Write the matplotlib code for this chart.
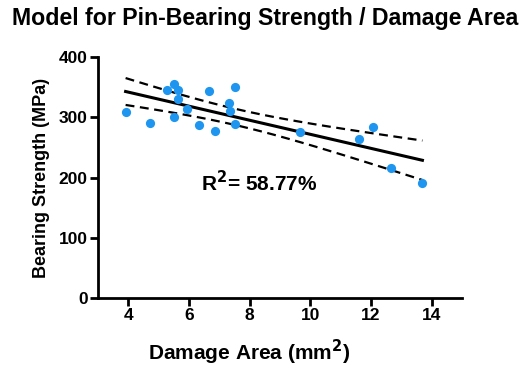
import numpy as np
import matplotlib
matplotlib.use("Agg")
import matplotlib.pyplot as plt

plt.rcParams['font.family'] = ['Liberation Sans', 'DejaVu Sans']
plt.rcParams['font.weight'] = 'bold'

# damage area (mm^2) vs bearing strength (MPa)
damage_area = [3.91, 4.72, 5.26, 5.51, 5.64, 5.64, 5.51, 5.93, 6.33, 6.65,
               6.84, 7.31, 7.36, 7.53, 7.52, 9.64, 11.60, 12.05, 12.67, 13.69]
bearing_strength = [309, 291, 346, 356, 346, 330, 301, 313, 287, 344,
                    278, 323, 310, 350, 289, 275, 264, 284, 216, 191]
r2_label = "R$^\\mathbf{2}$= 58.77%"
x_ticks = [4, 6, 8, 10, 12, 14]
y_ticks = [0, 100, 200, 300, 400]

x = np.array(damage_area)
y = np.array(bearing_strength)

# linear fit + 95% confidence band
slope, intercept = np.polyfit(x, y, 1)
n = len(x)
resid = y - (slope * x + intercept)
s = np.sqrt(np.sum(resid ** 2) / (n - 2))
xs = np.linspace(x.min(), x.max(), 100)
fit = slope * xs + intercept
t = 2.101  # t(0.975, 18)
se = s * np.sqrt(1 / n + (xs - x.mean()) ** 2 / np.sum((x - x.mean()) ** 2))

fig = plt.figure(figsize=(5.24, 3.68), dpi=100)
ax = fig.add_axes([0.187, 0.19, 0.695, 0.655])

ax.scatter(x, y, s=44, color='#1e96f0', zorder=3, linewidths=0)
ax.plot(xs, fit, color='black', lw=2.2, zorder=2)
ax.plot(xs, fit + t * se, color='black', lw=1.6, ls=(0, (4, 2.5)))
ax.plot(xs, fit - t * se, color='black', lw=1.6, ls=(0, (4, 2.5)))

ax.text(6.4, 191, r2_label, fontsize=15, fontweight='bold', va='center')

ax.set_xlim(3, 15)
ax.set_ylim(0, 400)
ax.set_xticks(x_ticks)
ax.set_yticks(y_ticks)
for sp in ['top', 'right']:
    ax.spines[sp].set_visible(False)
for sp in ['left', 'bottom']:
    ax.spines[sp].set_linewidth(2)
ax.tick_params(width=2, length=6, pad=1.5, labelsize=12.5, direction='out')
for lab in ax.get_xticklabels() + ax.get_yticklabels():
    lab.set_fontweight('bold')

ax.set_xlabel("Damage Area (mm$^\\mathbf{2}$)", fontsize=15, fontweight='bold')
ax.xaxis.set_label_coords(0.415, -0.165)
ax.set_ylabel("Bearing Strength (MPa)", fontsize=13, fontweight='bold', labelpad=6)
fig.text(0.023, 0.951, "Model for Pin-Bearing Strength / Damage Area",
         fontsize=16.7, fontweight='bold', va='center')

fig.savefig("out.png", dpi=100)
